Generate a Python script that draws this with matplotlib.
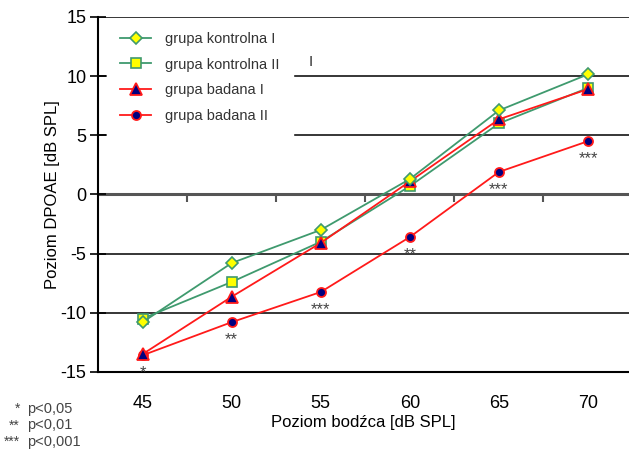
import matplotlib
matplotlib.use('Agg')
import matplotlib.pyplot as plt
import numpy as np

# data
levels = [45, 50, 55, 60, 65, 70]
kontrolna_1 = [-10.8, -5.8, -3.0, 1.3, 7.1, 10.15]
kontrolna_2 = [-10.5, -7.4, -4.0, 0.7, 6.0, 9.0]
badana_1 = [-13.5, -8.65, -4.1, 1.1, 6.35, 8.9]
badana_2 = [-13.6, -10.8, -8.25, -3.6, 1.9, 4.5]
stars = ['*', '**', '***', '**', '***', '***']
sig_labels = [('*', 'p<0,05'), ('**', 'p<0,01'), ('***', 'p<0,001')]

plt.rcParams['font.family'] = ['Liberation Sans', 'DejaVu Sans']
plt.rcParams['axes.unicode_minus'] = False
narrow = ['Liberation Sans Narrow', 'Liberation Sans', 'DejaVu Sans']

fig = plt.figure(figsize=(6.29, 4.54), dpi=100)
ax = fig.add_axes([0.156, 0.181, 0.844, 0.7816])
x = np.arange(len(levels))

green = '#3f9a6e'
red = '#ff1a1a'
ax.plot(x, badana_2, color=red, lw=1.3, marker='o', ms=6.5, mfc='#000080',
        mec=red, mew=1.3, label='grupa badana II', zorder=3)
ax.plot(x, kontrolna_2, color=green, lw=1.3, marker='s', ms=7.5, mfc='#ffff00',
        mec=green, mew=1.2, label='grupa kontrolna II', zorder=3)
ax.plot(x, badana_1, color=red, lw=1.3, marker='^', ms=8, mfc='#000080',
        mec=red, mew=1.3, label='grupa badana I', zorder=4)
ax.plot(x, kontrolna_1, color=green, lw=1.3, marker='D', ms=6.5, mfc='#ffff00',
        mec=green, mew=1.2, label='grupa kontrolna I', zorder=5)

for xi, yi, s in zip(x, badana_2, stars):
    ax.annotate(s, (xi, yi), xytext=(0, -10), textcoords='offset pixels',
                ha='center', va='top', fontsize=12, color='#444444')

ax.set_xlim(-0.5, 5.46)
ax.set_ylim(-15, 15)
ax.set_yticks([-15, -10, -5, 0, 5, 10, 15])
ax.tick_params(axis='y', direction='inout', length=11, width=1.2, labelsize=13, pad=3)
for yv in [15, 10, 5, -5, -10]:
    ax.axhline(yv, color='black', lw=1.1, zorder=1)
ax.axhline(0, color='#555555', lw=2.2, zorder=1)
for s in ['top', 'right']:
    ax.spines[s].set_visible(False)
ax.spines['left'].set_linewidth(1.5)
ax.spines['bottom'].set_linewidth(1.5)

ax.set_xticks(x)
ax.set_xticklabels([str(v) for v in levels])
ax.tick_params(axis='x', length=0, labelsize=13, pad=17)
ax.set_xlabel('Poziom bodźca [dB SPL]', fontsize=12, labelpad=2)
ax.set_ylabel('Poziom DPOAE [dB SPL]', fontsize=12, labelpad=0)

# ticks between categories on the zero line
zero = ax.secondary_xaxis(0.5)
zero.set_xticks(x[:-1] + 0.5)
zero.set_xticklabels([])
zero.tick_params(direction='in', length=6, width=1.5, color='#555555')
for sp in zero.spines.values():
    sp.set_visible(False)

handles, labels = ax.get_legend_handles_labels()
order = [3, 1, 2, 0]
leg = ax.legend([handles[i] for i in order], [labels[i] for i in order],
                loc='upper left', bbox_to_anchor=(0.017, 0.995), frameon=True,
                framealpha=1, edgecolor='white', fancybox=False,
                prop={'family': narrow, 'size': 10.5}, handlelength=2.1,
                labelspacing=0.8, handletextpad=1.0, borderaxespad=0,
                borderpad=0.9)
leg.set_zorder(6)
for t in leg.get_texts():
    t.set_color('#333333')
ax.text(0.400, 0.873, 'I', transform=ax.transAxes, fontsize=11, color='#333333',
        ha='center', va='center', family=narrow, zorder=7,
        bbox=dict(facecolor='white', edgecolor='none', pad=2))

for i, (st, lab) in enumerate(sig_labels):
    yy = 1 - (409 + i * 16.5) / 454
    fig.text(20 / 629, yy, st, ha='right', va='center', fontsize=10, color='#444444')
    fig.text(27 / 629, yy, lab, ha='left', va='center', fontsize=10.5,
             color='#444444', family=narrow)

fig.savefig('out.png', dpi=100)
